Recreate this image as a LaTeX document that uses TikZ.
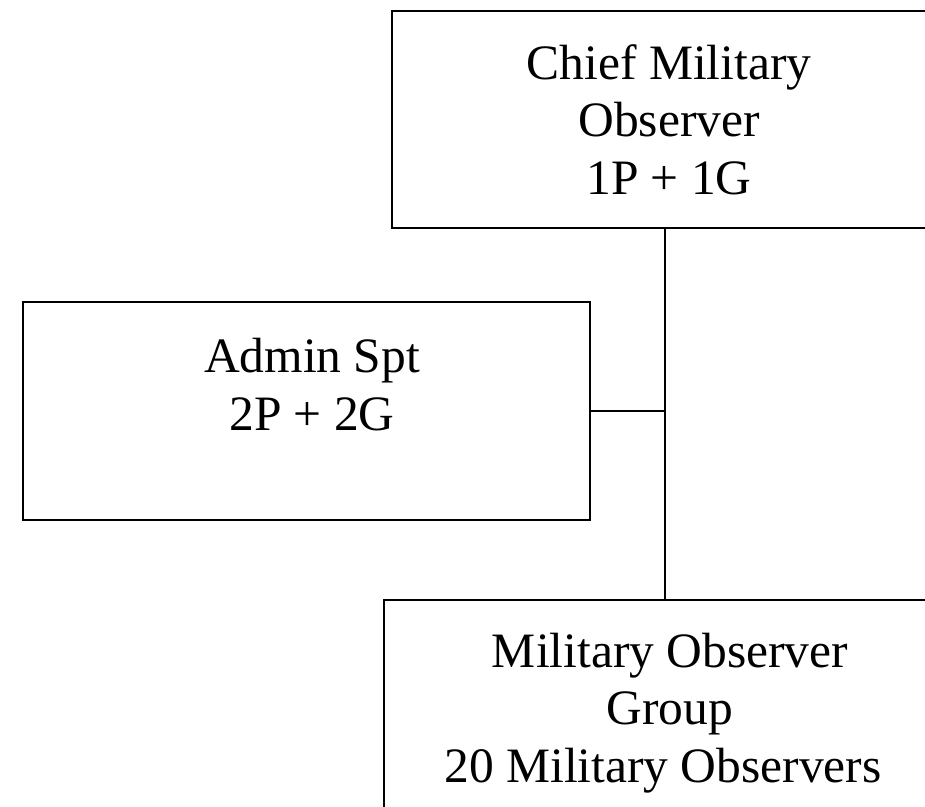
\documentclass[tikz,border=0pt]{standalone}
\usepackage{fontspec}
\setmainfont{Liberation Serif}
\begin{document}
\begin{tikzpicture}[x=1pt,y=-1pt,
  box/.style={draw, line width=1.6pt, rectangle, inner sep=0pt, anchor=north west},
  lbl/.style={align=center, inner sep=0pt, anchor=base, font=\fontsize{49.5}{57.5}\selectfont},
  link/.style={line width=1.6pt}]
\useasboundingbox (0,0) rectangle (925,806);
\clip (0,0) rectangle (925,806);
% boxes (the right and lower ones run past the page edge)
\node[box, minimum width=620pt, minimum height=217pt] (cmo) at (391,10) {};
\node[box, minimum width=567pt, minimum height=218pt] (adm) at (22,301) {};
\node[box, minimum width=620pt, minimum height=260pt] (mog) at (383,599) {};
% labels, anchored at the baseline of their last line
\node[lbl] (cmot) at (669,194) {Chief Military\\Observer\\1P + 1G};
\node[lbl] (admt) at (312,430) {Admin Spt\\2P + 2G};
\node[lbl] (mogt) at (670,782) {Military Observer\\Group\\20 Military Observers\hspace*{14pt}};
% connectors
\coordinate (jn) at (665,411);
\draw[link] (cmo.south west -| jn) -- (mog.north west -| jn);
\draw[link] (adm.east |- jn) -- (jn);
\end{tikzpicture}
\end{document}
